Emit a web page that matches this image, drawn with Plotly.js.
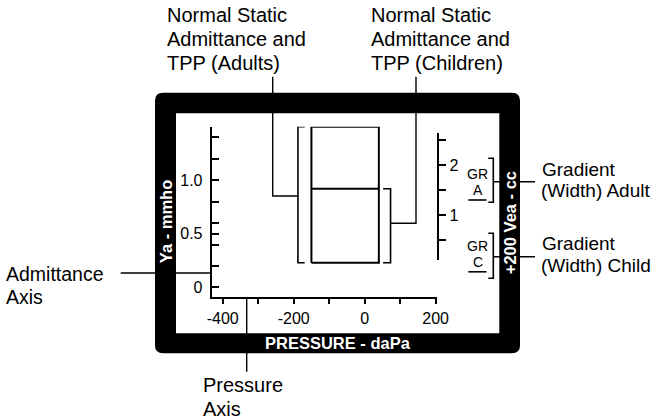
<!DOCTYPE html>
<html>
<head>
<meta charset="utf-8">
<script src="https://cdn.plot.ly/plotly-3.0.1.min.js"></script>
<style>html,body{margin:0;padding:0;background:#fff;}#chart{width:660px;height:420px;}</style>
</head>
<body>
<div id="chart"></div>
<script>
// ---- data ----
const pressureTicks = [-400, -300, -200, -100, 0, 100, 200];
const pressureTickLabels = ['-400', '', '-200', '', '0', '', '200'];
const admittanceTicks = [0, 0.2, 0.4, 0.5, 0.6, 0.8, 1.0, 1.2, 1.4, 1.5];
const admittanceTickLabels = ['0', '', '', '0.5', '', '', '1.0', '', '', ''];
const veaTicks = [0.5, 1, 1.5, 2, 2.5];
const veaTickLabels = ['', '1', '', '2', ''];
const tppRange = [-150, 40];          // normal TPP (daPa)
const adultYa = [0.23, 1.5];          // normal static admittance, adults (mmho)
const childYa = [0.23, 0.92];         // normal static admittance, children (mmho)

// ---- helpers (layout only) ----
const W = 660, H = 420;
const px = x => x / W;
const py = y => 1 - y / H;
const BLK = '#000';

const adultBracketX = tppRange[0] - 38, adultArm = 19;
const childBracketX = tppRange[1] + 33, childArm = 21;

const traces = [
  { // box outline
    x: [tppRange[0], tppRange[1], tppRange[1], tppRange[0], tppRange[0]],
    y: [adultYa[0], adultYa[0], adultYa[1], adultYa[1], adultYa[0]],
    mode: 'lines', line: {color: BLK, width: 2}, hoverinfo: 'skip', xaxis: 'x', yaxis: 'y'
  },
  { // children's upper limit
    x: [tppRange[0], tppRange[1]],
    y: [childYa[1], childYa[1]],
    mode: 'lines', line: {color: BLK, width: 2}, hoverinfo: 'skip'
  },
  { // adult bracket
    x: [adultBracketX + adultArm, adultBracketX, adultBracketX, adultBracketX + adultArm],
    y: [adultYa[0], adultYa[0], adultYa[1], adultYa[1]],
    mode: 'lines', line: {color: BLK, width: 1.6}, hoverinfo: 'skip'
  },
  { // child bracket
    x: [childBracketX - childArm, childBracketX, childBracketX, childBracketX - childArm],
    y: [childYa[0], childYa[0], childYa[1], childYa[1]],
    mode: 'lines', line: {color: BLK, width: 1.6}, hoverinfo: 'skip'
  },
  { // carrier for Vea axis
    x: [null], y: [null], mode: 'lines', xaxis: 'x2', yaxis: 'y2', hoverinfo: 'skip'
  }
];

// frame
const oL = 155, oT = 92.7, oR = 520, oB = 353.3, r = 8;
const framePath = `M ${px(oL + r)} ${py(oT)} L ${px(oR - r)} ${py(oT)} Q ${px(oR)} ${py(oT)} ${px(oR)} ${py(oT + r)} ` +
  `L ${px(oR)} ${py(oB - r)} Q ${px(oR)} ${py(oB)} ${px(oR - r)} ${py(oB)} L ${px(oL + r)} ${py(oB)} ` +
  `Q ${px(oL)} ${py(oB)} ${px(oL)} ${py(oB - r)} L ${px(oL)} ${py(oT + r)} Q ${px(oL)} ${py(oT)} ${px(oL + r)} ${py(oT)} Z`;

function seg(x0, y0, x1, y1, w) {
  return {type: 'line', xref: 'paper', yref: 'paper', x0: px(x0), y0: py(y0), x1: px(x1), y1: py(y1),
    line: {color: BLK, width: w || 1.4}, layer: 'above'};
}
function poly(pts, w) {
  let d = 'M ' + pts.map(p => px(p[0]) + ' ' + py(p[1])).join(' L ');
  return {type: 'path', xref: 'paper', yref: 'paper', path: d, line: {color: BLK, width: w || 1.4}, layer: 'above'};
}

const shapes = [
  {type: 'path', xref: 'paper', yref: 'paper', path: framePath, fillcolor: BLK, line: {width: 0}, layer: 'below'},
  {type: 'rect', xref: 'paper', yref: 'paper', x0: px(176), y0: py(333.3), x1: px(499.3), y1: py(113.3),
    fillcolor: '#fff', line: {width: 0}, layer: 'below'},
  // leaders
  poly([[298.3, 196], [272.7, 196], [272.7, 76.7]]),
  poly([[390.7, 223.3], [416, 223.3], [416, 76.7]]),
  seg(120.7, 273, 212, 273),
  seg(246.7, 297.3, 246.7, 371.7),
  // GR brackets
  poly([[488.3, 158.3], [493.3, 158.3], [493.3, 202.3], [488.3, 202.3]], 1.6),
  poly([[488.3, 233.3], [493.3, 233.3], [493.3, 278.3], [488.3, 278.3]], 1.6),
  seg(493.3, 181.7, 535, 181.7),
  seg(493.3, 256.7, 535, 256.7),
  // underlines
  seg(468.3, 200, 486.5, 200, 1.6),
  seg(468.3, 271.8, 486.5, 271.8, 1.6)
];

function txt(t, x, y, size, opts) {
  return Object.assign({text: t, x: px(x), y: py(y), xref: 'paper', yref: 'paper', showarrow: false,
    xanchor: 'left', yanchor: 'middle', font: {size: size, color: BLK}}, opts || {});
}
const F = 20;
const annotations = [
  txt('Normal Static', 165, 15, F), txt('Admittance and', 165, 39, F), txt('TPP (Adults)', 165, 63.3, F),
  txt('Normal Static', 368.5, 15, F), txt('Admittance and', 368.5, 39, F), txt('TPP (Children)', 368.5, 63.3, F),
  txt('Admittance', 4, 274, 19.5), txt('Axis', 4, 296.5, 19.5),
  txt('Pressure', 200.5, 384.7, F), txt('Axis', 200.5, 408.7, F),
  txt('Gradient', 539.5, 169.4, 19), txt('(Width) Adult', 538.5, 190.7, 19),
  txt('Gradient', 539.5, 243.7, 19), txt('(Width) Child', 538.5, 265, 19),
  txt('GR', 477.5, 174, 14, {xanchor: 'center'}), txt('A', 477.5, 189.8, 14, {xanchor: 'center'}),
  txt('GR', 477.5, 246.2, 14, {xanchor: 'center'}), txt('C', 477.5, 262, 14, {xanchor: 'center'}),
  txt('<b>Ya - mmho</b>', 165.5, 221.7, 16.5, {xanchor: 'center', textangle: -90, font: {size: 16.5, color: '#fff'}}),
  txt('<b>+200 Vea - cc</b>', 509.7, 222.5, 16.5, {xanchor: 'center', textangle: -90, font: {size: 16.5, color: '#fff'}}),
  txt('<b>PRESSURE - daPa</b>', 337.5, 343.3, 16.5, {xanchor: 'center', font: {size: 16.5, color: '#fff'}})
];

const layout = {
  width: W, height: H,
  margin: {l: 0, r: 0, t: 0, b: 0, pad: 0},
  paper_bgcolor: '#fff', plot_bgcolor: 'rgba(0,0,0,0)',
  showlegend: false,
  font: {family: '"Liberation Sans", Arial, sans-serif', color: BLK},
  xaxis: {
    domain: [px(211.7), px(436.7)], range: [-431, 203], anchor: 'y',
    tickmode: 'array', tickvals: pressureTicks, ticktext: pressureTickLabels,
    ticks: 'outside', ticklen: 5, tickwidth: 2, tickcolor: BLK,
    showline: true, linewidth: 2, linecolor: BLK, showgrid: false, zeroline: false,
    tickfont: {size: 16}, fixedrange: true
  },
  yaxis: {
    domain: [py(297.3), py(126.7)], range: [-0.093, 1.5], anchor: 'x',
    tickmode: 'array', tickvals: admittanceTicks, ticktext: admittanceTickLabels,
    ticks: 'inside', ticklen: 7, tickwidth: 2, tickcolor: BLK, ticklabelstandoff: 4,
    showline: true, linewidth: 2, linecolor: BLK, showgrid: false, zeroline: false,
    tickfont: {size: 16}, fixedrange: true
  },
  xaxis2: {domain: [px(211.7), px(436.7)], range: [0, 1], anchor: 'y2', visible: false, fixedrange: true},
  yaxis2: {
    domain: [py(260), py(133)], range: [0.1, 2.64], anchor: 'free', position: px(438.3), side: 'right',
    tickmode: 'array', tickvals: veaTicks, ticktext: veaTickLabels,
    ticks: 'outside', ticklen: 7, tickwidth: 2, tickcolor: BLK,
    showline: true, linewidth: 2, linecolor: BLK, showgrid: false, zeroline: false,
    tickfont: {size: 16}, fixedrange: true
  },
  shapes: shapes,
  annotations: annotations
};

Plotly.newPlot('chart', traces, layout, {displayModeBar: false, staticPlot: true});
</script>
</body>
</html>
